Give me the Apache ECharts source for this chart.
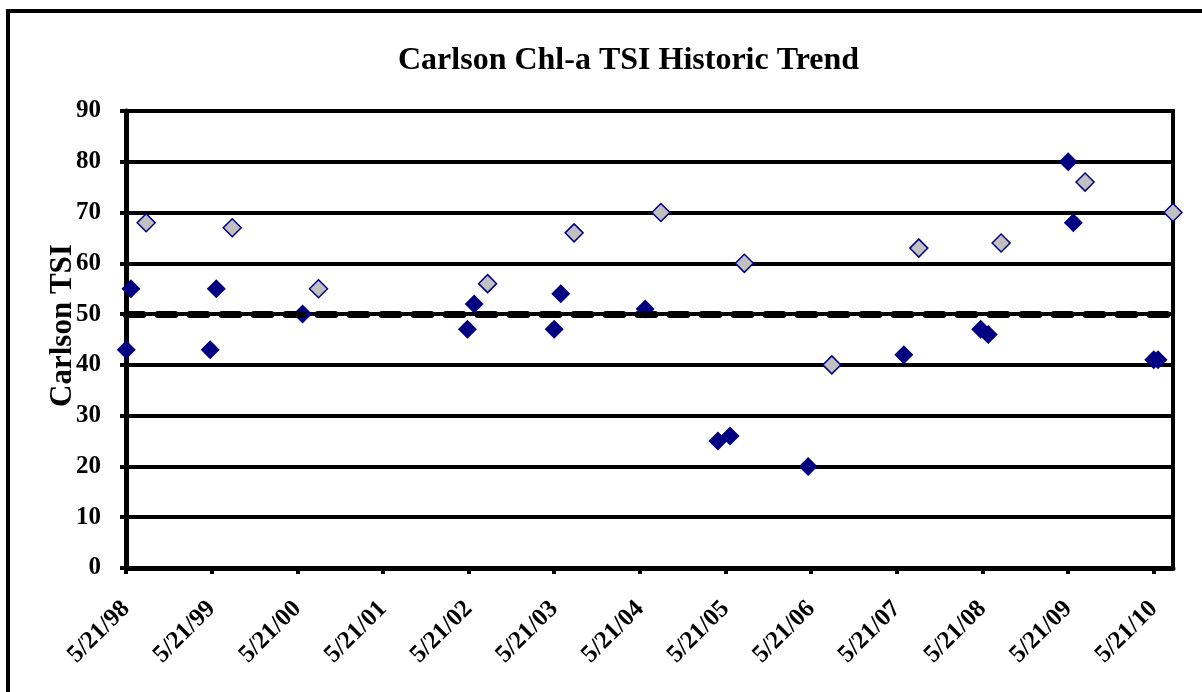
<!DOCTYPE html>
<html>
<head>
<meta charset="utf-8">
<script src="https://cdn.jsdelivr.net/npm/echarts@6/dist/echarts.min.js"></script>
<style>
  html, body { margin: 0; padding: 0; background: #fff; }
  #chart { width: 1202px; height: 692px; }
</style>
</head>
<body>
<div id="chart"></div>
<script>
// 数据: 日期 + TSI
var earlyDates = ['1998-05-22', '1998-06-11', '1999-05-15', '1999-06-10', '2000-06-12',
	'2002-05-16', '2002-06-14', '2003-05-21', '2003-06-18', '2004-06-12',
	'2005-04-18', '2005-06-09', '2006-05-08', '2007-06-20', '2008-05-13',
	'2008-06-14', '2009-05-21', '2009-06-12', '2010-05-21', '2010-06-08'];
var earlyTsi = [43, 55, 43, 55, 50, 47, 52, 47, 54, 51, 25, 26, 20, 42, 47, 46, 80, 68, 41, 41];

var lateDates = ['1998-08-15', '1999-08-17', '2000-08-19', '2002-08-10', '2003-08-14',
	'2004-08-18', '2005-08-09', '2006-08-17', '2007-08-23', '2008-08-08',
	'2009-08-01', '2010-08-11'];
var lateTsi = [68, 67, 55, 56, 66, 70, 60, 40, 63, 64, 76, 70];

var tickDates = ['1998-05-21', '1999-05-21', '2000-05-21', '2001-05-21', '2002-05-21',
	'2003-05-21', '2004-05-21', '2005-05-21', '2006-05-21', '2007-05-21',
	'2008-05-21', '2009-05-21', '2010-05-21'];
var xMaxDate = '2010-08-11';
var yTicks = [0, 10, 20, 30, 40, 50, 60, 70, 80, 90];
var refLine = 50;

var serif = "'Liberation Serif', 'Times New Roman', serif";

// 'YYYY-MM-DD' -> 本地时间毫秒
function toMs(s) {
	var p = s.split('-');
	return new Date(+p[0], +p[1] - 1, +p[2]).getTime();
}

var tickValues = tickDates.map(toMs);

function zip(dates, vals) {
	return dates.map(function(d, i) {
		return [toMs(d), vals[i]];
	});
}

var myChart = echarts.init(document.getElementById('chart'));

var option = {
	animation : false,
	backgroundColor : '#fff',
	title : {
		text : 'Carlson Chl-a TSI Historic Trend',
		left : 393,
		top : 40,
		textStyle : {
			fontFamily : serif,
			fontWeight : 'bold',
			fontSize : 32,
			color : '#000'
		}
	},
	graphic : [ {
		// 外框 (只见左边和上边)
		type : 'rect',
		shape : { x : 8, y : 11, width : 1300, height : 800 },
		style : { fill : null, stroke : '#000', lineWidth : 4 },
		silent : true
	} ],
	grid : {
		left : 126,
		right : 29,
		top : 111,
		bottom : 124,
		show : true,
		borderColor : '#000',
		borderWidth : 4
	},
	xAxis : {
		type : 'value',
		min : tickValues[0],
		max : toMs(xMaxDate),
		splitLine : { show : false },
		axisLine : { lineStyle : { color : '#000', width : 5 } },
		axisTick : {
			show : true,
			customValues : tickValues,
			length : 6,
			lineStyle : { color : '#000', width : 4 }
		},
		axisLabel : {
			customValues : tickValues,
			rotate : 45,
			margin : 37,
			fontFamily : serif,
			fontWeight : 'bold',
			fontSize : 25,
			color : '#000',
			formatter : function(v) {
				var d = new Date(v);
				return (d.getMonth() + 1) + '/' + d.getDate() + '/' + String(d.getFullYear()).slice(2);
			}
		}
	},
	yAxis : {
		type : 'value',
		min : yTicks[0],
		max : yTicks[yTicks.length - 1],
		interval : 10,
		name : 'Carlson TSI',
		nameLocation : 'middle',
		nameRotate : 90,
		nameGap : 48,
		nameMoveOverlap : false,
		nameTextStyle : {
			fontFamily : serif,
			fontWeight : 'bold',
			fontSize : 31,
			color : '#000',
			padding : [ 0, 0, 0, 28 ]
		},
		axisLine : { show : true, lineStyle : { color : '#000', width : 5 } },
		axisTick : { show : true, length : 6, lineStyle : { color : '#000', width : 4 } },
		splitLine : { lineStyle : { color : '#000', width : 4 } },
		axisLabel : {
			margin : 25,
			fontFamily : serif,
			fontWeight : 'bold',
			fontSize : 25,
			color : '#000'
		}
	},
	series : [ {
		// 50 虚线
		type : 'line',
		data : [],
		z : 1,
		markLine : {
			silent : true,
			symbol : 'none',
			label : { show : false },
			lineStyle : { color : '#000', width : 7, type : [ 17, 15 ], cap : 'round' },
			data : [ { yAxis : refLine } ]
		}
	}, {
		type : 'scatter',
		symbol : 'diamond',
		symbolSize : 19,
		z : 3,
		itemStyle : { color : '#000080', opacity : 1 },
		data : zip(earlyDates, earlyTsi)
	}, {
		type : 'scatter',
		symbol : 'diamond',
		symbolSize : 18,
		z : 4,
		itemStyle : { color : '#C0C0C0', borderColor : '#000080', borderWidth : 1.5, opacity : 1 },
		data : zip(lateDates, lateTsi)
	} ]
};

myChart.setOption(option);
</script>
</body>
</html>
